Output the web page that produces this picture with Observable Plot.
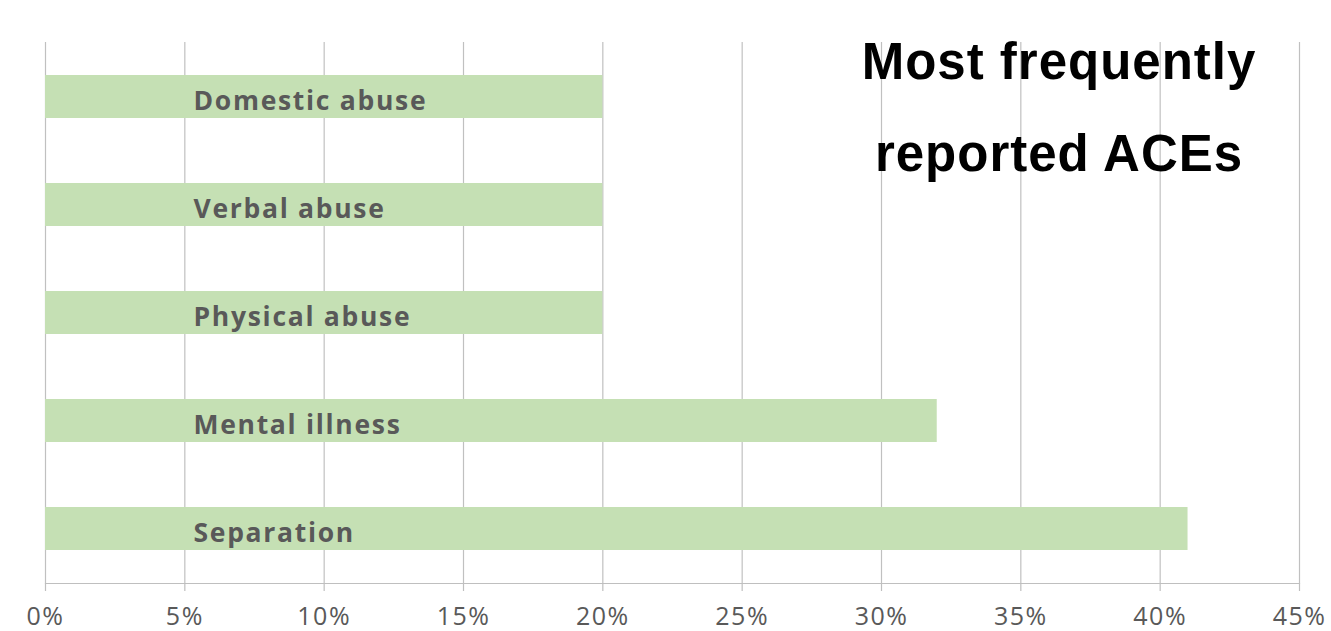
<!DOCTYPE html>
<html>
<head>
<meta charset="utf-8">
<script src="https://cdn.jsdelivr.net/npm/d3@7"></script>
<script src="https://cdn.jsdelivr.net/npm/@observablehq/plot@0.6"></script>
<style>
  html, body { margin: 0; padding: 0; background: #fff; }
  #wrap { position: relative; width: 1331px; height: 631px; overflow: hidden; }
  #title {
    position: absolute; left: 800px; width: 518px; top: 16px;
    text-align: center; font-family: "Liberation Sans", Arial, sans-serif;
    font-weight: bold; font-size: 51px; line-height: 92px; color: #000;
    letter-spacing: 1px;
    pointer-events: none;
  }
  .cat-label text { letter-spacing: 1.7px; }
  .x-ticks text { letter-spacing: 1.5px; }
</style>
</head>
<body>
<div id="wrap">
  <div id="chart"></div>
  <div id="title">Most frequently<br>reported ACEs</div>
</div>
<script>
const categories = ["Domestic abuse", "Verbal abuse", "Physical abuse", "Mental illness", "Separation"];
const values = [20, 20, 20, 32, 41];
const tickValues = [0, 5, 10, 15, 20, 25, 30, 35, 40, 45];
const tickLabels = ["0%", "5%", "10%", "15%", "20%", "25%", "30%", "35%", "40%", "45%"];

const data = categories.map((c, i) => ({name: c, value: values[i]}));

const chart = Plot.plot({
  width: 1331,
  height: 631,
  marginLeft: 45,
  marginRight: 32,
  marginTop: 42,
  marginBottom: 48,
  style: {background: "#fff", fontFamily: "'Open Sans', sans-serif"},
  x: {domain: [0, 45]},
  y: {domain: categories, paddingInner: 0.6, paddingOuter: 0.3, align: 0.5},
  marks: [
    Plot.gridX(tickValues, {stroke: "#c0c0c0", strokeOpacity: 1, strokeWidth: 1.2}),
    Plot.barX(data, {x: "value", y: "name", fill: "#c5e0b4"}),
    Plot.frame({anchor: "bottom", stroke: "#bfbfbf", strokeWidth: 1.2}),
    Plot.axisX(tickValues, {
      tickFormat: (d) => tickLabels[tickValues.indexOf(d)],
      tickSize: 8, tickPadding: 16, stroke: "#bfbfbf", strokeWidth: 1.2,
      fontSize: 25, fill: "#595959", label: null, className: "x-ticks"
    }),
    Plot.axisY({ticks: [], label: null, tickSize: 0}),
    Plot.text(data, {
      x: () => 0, y: "name", text: "name", dx: 148, dy: 5,
      textAnchor: "start", fontWeight: "bold", fontSize: 26.5, fill: "#595959",
      fontFamily: "'Open Sans', sans-serif", className: "cat-label"
    })
  ]
});
document.getElementById("chart").appendChild(chart);
</script>
</body>
</html>
